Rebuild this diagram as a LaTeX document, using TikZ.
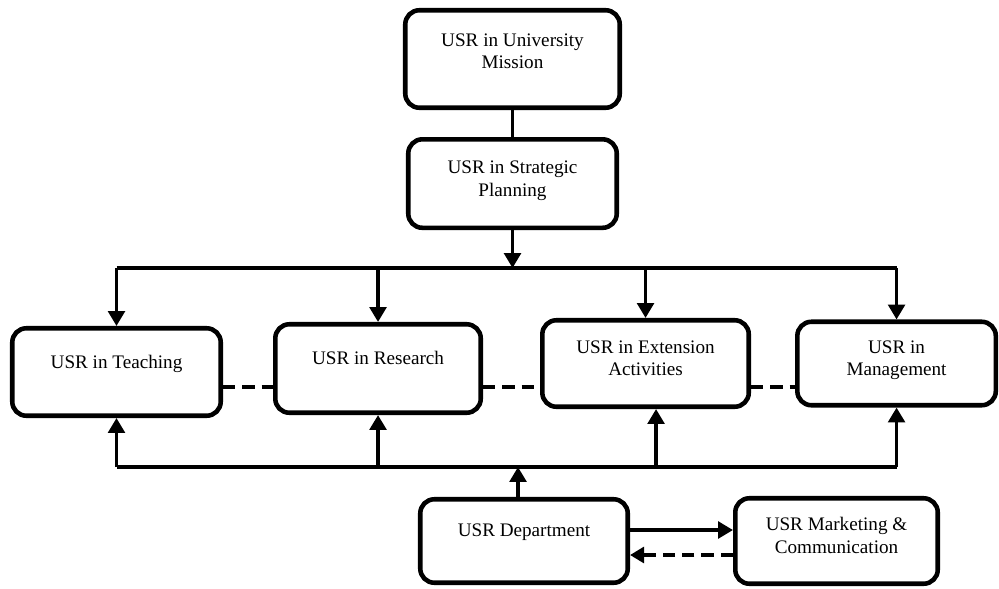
\documentclass[tikz,border=0pt]{standalone}
\usepackage{fontspec}
\setmainfont{Liberation Serif}
\usetikzlibrary{arrows.meta, positioning, calc}
\tikzstyle{usrbox} = [rectangle, rounded corners=8pt, draw=black, line width=2.6pt, minimum width=4.15cm, minimum height=1.75cm, align=center, font=\fontsize{10.9pt}{13pt}\selectfont]
\tikzstyle{oneline} = [text depth=12pt]
\tikzstyle{twoline} = [text depth=6pt]
\tikzstyle{busline} = [line width=2pt]
\tikzstyle{arrow} = [line width=2pt, -{Triangle[length=8.5pt,width=9.5pt]}]
\tikzstyle{dashline} = [line width=2.3pt, dash pattern=on 7pt off 4pt]
\tikzstyle{dashed_arrow} = [line width=2.3pt, dash pattern=on 7pt off 4pt, -{Triangle[length=8pt,width=9pt]}]

\begin{document}
\begin{tikzpicture}[x=0.02cm, y=-0.02cm]
\useasboundingbox (0,0) rectangle (999,588);

% --- Top of the chain ---
\node (mission) [usrbox, text depth=9pt, minimum width=4.29cm, minimum height=1.95cm] at (512.5,59) {USR in University\\Mission};
\node (strategic) [usrbox, twoline, minimum width=4.17cm, minimum height=1.77cm, below=0.54cm of mission] {USR in Strategic\\Planning};

% --- USR areas ---
\node (teaching) [usrbox, oneline, minimum width=4.17cm] at (116.5,372) {USR in Teaching};
\node (research) [usrbox, oneline, minimum width=4.11cm, minimum height=1.77cm, right=1cm of teaching, yshift=0.07cm] {USR in Research};
\node (extension) [usrbox, twoline, minimum width=4.13cm, minimum height=1.73cm, right=1.14cm of research, yshift=0.1cm] {USR in Extension\\Activities};
\node (management) [usrbox, twoline, minimum width=3.97cm, minimum height=1.67cm, right=0.88cm of extension] {USR in\\Management};

% --- Department ---
\node (department) [usrbox, oneline, minimum height=1.67cm] at (524,541) {USR Department};
\node (marketing) [usrbox, twoline, minimum width=4.05cm, minimum height=1.71cm, right=2.06cm of department] {USR Marketing \&\\Communication};

% rows of the connectors
\coordinate (bustop) at (0,268);
\coordinate (busbottom) at (0,467);
\coordinate (dashrow) at (0,387);
\coordinate (linkrow) at (0,530);
\coordinate (backrow) at (0,555);
\coordinate (extfoot) at ($(extension.south)+(10.5,0)$);
\coordinate (deptfoot) at ($(department.north)+(-6,0)$);

% --- Connections ---
% Mission to planning
\draw [busline] (mission.south) -- (mission.south |- strategic.north);
\draw [arrow] (strategic.south) -- (strategic.south |- bustop);

% Planning to areas
\draw [busline] (teaching.north |- bustop) -- (management.north |- bustop);
\draw [arrow] (teaching.north |- bustop) -- (teaching.north);
\draw [arrow] (research.north |- bustop) -- (research.north);
\draw [arrow] (extension.north |- bustop) -- (extension.north);
\draw [arrow] (management.north |- bustop) -- (management.north);

% Links between areas
\draw [dashline] (teaching.east |- dashrow) -- (research.west |- dashrow);
\draw [dashline] (research.east |- dashrow) -- (extension.west |- dashrow);
\draw [dashline] (extension.east |- dashrow) -- (management.west |- dashrow);

% Department to areas
\draw [busline] (teaching.south |- busbottom) -- (management.south |- busbottom);
\draw [arrow] (deptfoot) -- (deptfoot |- busbottom);
\draw [arrow] (teaching.south |- busbottom) -- (teaching.south);
\draw [arrow] (research.south |- busbottom) -- (research.south);
\draw [arrow] (extfoot |- busbottom) -- (extfoot);
\draw [arrow] (management.south |- busbottom) -- (management.south);

% Department and marketing
\draw [arrow] (department.east |- linkrow) -- (marketing.west |- linkrow);
\draw [dashed_arrow] (marketing.west |- backrow) -- (department.east |- backrow);

\end{tikzpicture}
\end{document}
